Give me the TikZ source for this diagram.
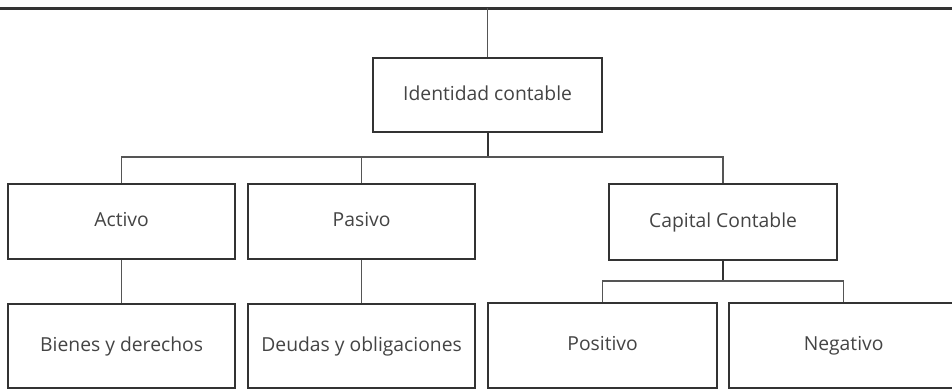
\documentclass[tikz,border=0pt]{standalone}
\usepackage{fontspec}
\setmainfont{Open Sans}
\definecolor{boxline}{HTML}{333333}
\definecolor{conn}{HTML}{555555}
\definecolor{txt}{HTML}{444444}
\begin{document}
\begin{tikzpicture}[x=1pt,y=-1pt,
  box/.style={draw=boxline,line width=2.2pt,fill=white,minimum width=227pt,minimum height=75pt,inner sep=0pt,text height=14pt,text depth=4pt,font=\fontsize{19.3}{22}\selectfont,text=txt,anchor=north west},
  wire/.style={draw=conn,line width=1.4pt},
  wirebold/.style={draw=boxline,line width=2pt}]
\useasboundingbox (0,0) rectangle (952,389);
\coordinate (tl) at (0,8);
\coordinate (tr) at (952,8);
\draw[draw=boxline,line width=3pt] (tl) -- (tr);
\node[box,minimum width=229pt,minimum height=74pt] (id) at (372,57) {Identidad contable};
\node[box] (act) at (7,183) {Activo};
\node[box] (pas) at (247,183) {Pasivo};
\node[box,minimum width=228pt,minimum height=76pt] (cap) at (608,183) {Capital Contable};
\node[box,minimum height=84pt] (bie) at (7,303) {Bienes y derechos};
\node[box,minimum height=84pt] (deu) at (247,303) {Deudas y obligaciones};
\node[box,minimum width=229pt,minimum height=85pt] (pos) at (487,302) {Positivo};
\node[box,minimum width=229pt,minimum height=85pt] (neg) at (728,302) {Negativo};
\coordinate (top) at (id.north |- tl);
\coordinate (h1) at (id.south |- 0,157);
\coordinate (h2) at (cap.south |- 0,281);
\draw[wire] (top) -- (id.north);
\draw[wirebold] (id.south) -- (h1);
\draw[wire] (act.north) |- (h1);
\draw[wire] (pas.north) -- (pas.north |- h1);
\draw[wire] (cap.north) |- (h1);
\draw[wire] (act.south) -- (bie.north);
\draw[wire] (pas.south) -- (deu.north);
\draw[wirebold] (cap.south) -- (h2);
\draw[wire] (pos.north) |- (h2);
\draw[wire] (neg.north) |- (h2);
\end{tikzpicture}
\end{document}
